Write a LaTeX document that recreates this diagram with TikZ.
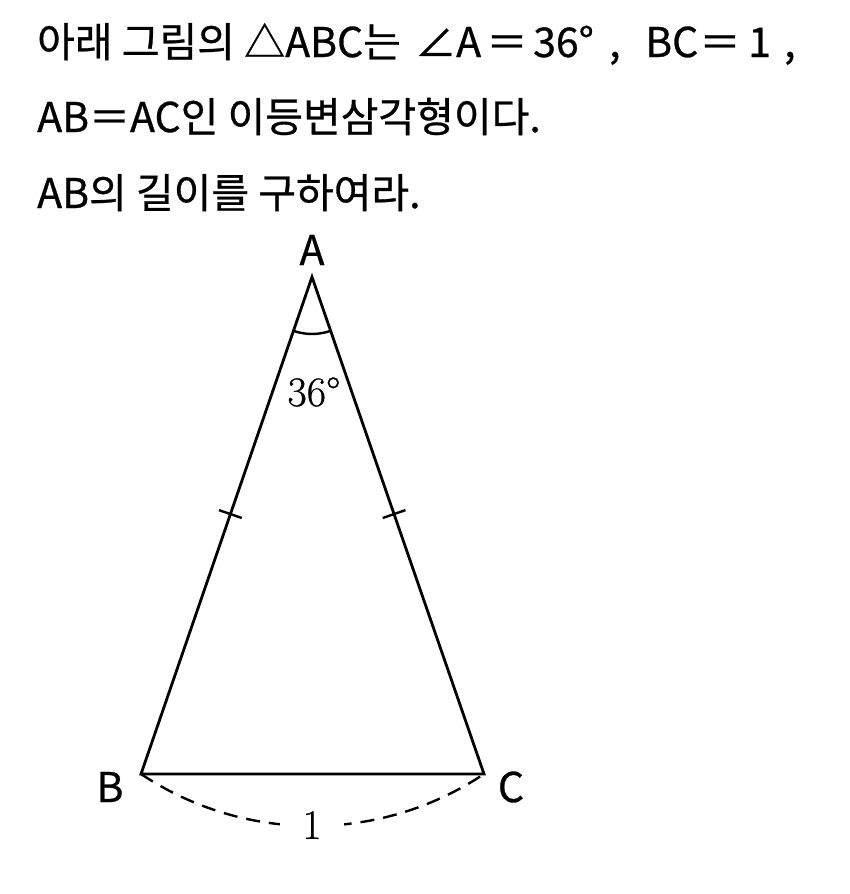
\documentclass[tikz,border=0pt]{standalone}
\usepackage{fontspec}
\newfontfamily\kr[FakeBold=0.7]{Noto Sans CJK KR}
\newfontfamily\lmr[FakeBold=0.6]{Latin Modern Roman}
\usetikzlibrary{calc}
\begin{document}
\begin{tikzpicture}[x=1pt,y=-1pt,
  hdr/.style={anchor=base west, inner sep=0pt, font=\kr\fontsize{41}{48}\selectfont},
  vlabel/.style={inner sep=0pt, font=\kr\fontsize{41}{48}\selectfont},
  numlabel/.style={inner sep=0pt, font=\lmr\fontsize{42}{50}\selectfont},
  edge/.style={line width=2.8pt},
  thinline/.style={line width=2.4pt},
  dimline/.style={line width=2.4pt, dash pattern=on 14pt off 9pt}]
\useasboundingbox[fill=white] (0,0) rectangle (850,894);
% header text, line 1
\node[hdr] (l1a) at (37,57) {아래 그림의 △ABC는};
\node[hdr] (l1b) at (415,57) {∠A};
\node[hdr, anchor=base] (l1c) at (507,57) {＝};
\node[hdr] (l1d) at (533,57) {36°};
\node[hdr] (l1e) at (609,57) {,};
\node[hdr] (l1f) at (645,57) {BC};
\node[hdr, anchor=base] (l1g) at (720,57) {＝};
\node[hdr] (l1h) at (748,57) {1};
\node[hdr] (l1i) at (784,57) {,};
% lines 2 and 3
\node[hdr] (l2) at (37,132) {AB＝AC인 이등변삼각형이다.};
\node[hdr] (l3) at (37,208) {AB의 길이를 구하여라.};
% triangle
\coordinate (A) at (312,277);
\coordinate (B) at (141,774);
\coordinate (C) at (484,774);
\draw[edge] (A) -- (B) -- (C) -- cycle;
% angle arc
\coordinate (a1) at (293.5,330.9);
\coordinate (a2) at (330.5,330.9);
\draw[thinline] (a1) .. controls (305.5,335.0) and (318.5,335.0) .. (a2);
% ticks
\coordinate (mAB) at ($(A)!0.477!(B)$);
\coordinate (mAC) at ($(A)!0.477!(C)$);
\draw[thinline] ($(mAB)!12pt!90:(A)$) -- ($(mAB)!12pt!-90:(A)$);
\draw[thinline] ($(mAC)!12pt!90:(A)$) -- ($(mAC)!12pt!-90:(A)$);
% dashed arc
\draw[dimline] (B) .. controls (244.8,843.3) and (380.2,843.3) .. (C);
\node[numlabel, fill=white, inner xsep=22pt, inner ysep=3pt] (one) at (312,825) {1};
% labels
\node[vlabel] (lA) at (312,250) {A};
\node[vlabel] (lB) at (110,787) {B};
\node[vlabel] (lC) at (511,787) {C};
\node[numlabel] (ang) at (314,392) {36°};
\end{tikzpicture}
\end{document}
